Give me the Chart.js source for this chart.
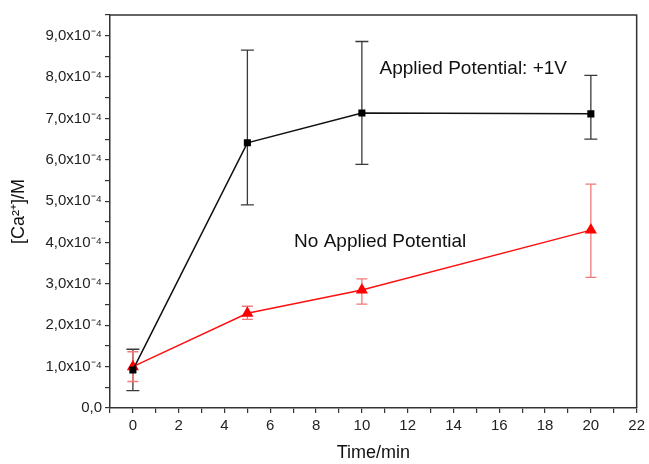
<!DOCTYPE html>
<html>
<head>
<meta charset="utf-8">
<script src="https://cdn.jsdelivr.net/npm/chart.js@4.4.1/dist/chart.umd.min.js"></script>
<style>
html,body{margin:0;padding:0;background:#fff;}
#wrap{width:649px;height:464px;position:relative;}
</style>
</head>
<body>
<div id="wrap"><canvas id="c" width="649" height="464"></canvas></div>
<script>
// Data (time in min, concentration in M)
const times = [0, 5, 10, 20];
const potentialMean = [0.92e-4, 6.41e-4, 7.13e-4, 7.11e-4];
const potentialLow  = [0.42e-4, 4.91e-4, 5.89e-4, 6.50e-4];
const potentialHigh = [1.42e-4, 8.65e-4, 8.86e-4, 8.04e-4];
const noPotMean = [1.00e-4, 2.29e-4, 2.85e-4, 4.30e-4];
const noPotLow  = [0.64e-4, 2.14e-4, 2.51e-4, 3.16e-4];
const noPotHigh = [1.36e-4, 2.46e-4, 3.12e-4, 5.41e-4];
const seriesNames = ['Applied Potential: +1V', 'No Applied Potential'];
const xTickLabels = ['0','2','4','6','8','10','12','14','16','18','20','22'];
const yTickLabels = ['0,0','1,0x10⁻⁴','2,0x10⁻⁴','3,0x10⁻⁴','4,0x10⁻⁴','5,0x10⁻⁴','6,0x10⁻⁴','7,0x10⁻⁴','8,0x10⁻⁴','9,0x10⁻⁴'];

const FONT = '"Liberation Sans", Arial, sans-serif';

function pts(xs, ys){ return xs.map((x,i)=>({x:x, y:ys[i]})); }

const errorBars = {
  id:'errorBars',
  beforeDatasetsDraw(chart){
    const ctx = chart.ctx, xs = chart.scales.x, ys = chart.scales.y;
    const sets = [
      {low:potentialLow, high:potentialHigh, color:'#3a3a3a', cap:6.5, w:1.3},
      {low:noPotLow, high:noPotHigh, color:'#f07a7a', cap:5.5, w:1.3}
    ];
    ctx.save();
    sets.forEach(s=>{
      ctx.strokeStyle = s.color; ctx.lineWidth = s.w;
      times.forEach((t,i)=>{
        const px = xs.getPixelForValue(t);
        const y1 = ys.getPixelForValue(s.low[i]);
        const y2 = ys.getPixelForValue(s.high[i]);
        ctx.beginPath();
        ctx.moveTo(px, y1); ctx.lineTo(px, y2);
        ctx.moveTo(px - s.cap, y1); ctx.lineTo(px + s.cap, y1);
        ctx.moveTo(px - s.cap, y2); ctx.lineTo(px + s.cap, y2);
        ctx.stroke();
      });
    });
    ctx.restore();
  }
};

const frameAndText = {
  id:'frameAndText',
  afterDraw(chart){
    const ctx = chart.ctx, a = chart.chartArea, xs = chart.scales.x, ys = chart.scales.y;
    ctx.save();
    ctx.strokeStyle = '#333'; ctx.lineWidth = 1.5;
    ctx.beginPath();
    ctx.moveTo(a.left, a.top); ctx.lineTo(a.right, a.top); ctx.lineTo(a.right, a.bottom);
    ctx.stroke();
    ctx.fillStyle = '#111';
    ctx.font = '19px ' + FONT;
    ctx.textBaseline = 'middle';
    ctx.textAlign = 'left';
    ctx.fillText(seriesNames[0], xs.getPixelForValue(10.77), ys.getPixelForValue(8.19e-4));
    ctx.fillText(seriesNames[1], xs.getPixelForValue(7.04), ys.getPixelForValue(4.03e-4));
    ctx.restore();
  }
};

new Chart(document.getElementById('c'), {
  type:'line',
  data:{
    datasets:[
      {label:seriesNames[0], data:pts(times, potentialMean), borderColor:'#111', backgroundColor:'#000',
       borderWidth:1.5, pointStyle:'rect', pointRadius:5, pointBorderWidth:0, tension:0},
      {label:seriesNames[1], data:pts(times, noPotMean), borderColor:'#ff1010', backgroundColor:'#ff0000',
       borderWidth:1.5, pointStyle:'triangle', pointRadius:7, pointBorderWidth:0, tension:0}
    ]
  },
  options:{
    responsive:false, animation:false,
    layout:{padding:{top:15, right:10, left:0, bottom:0}},
    plugins:{legend:{display:false}, tooltip:{enabled:false}},
    scales:{
      x:{
        type:'linear', min:-1, max:22,
        afterFit(s){ s.height = 56; },
        border:{display:true, color:'#333', width:1.5},
        grid:{drawOnChartArea:false, drawTicks:true, tickLength:5, color:'#333', lineWidth:1.2},
        ticks:{stepSize:1, autoSkip:false, maxRotation:0, padding:4, color:'#222',
          font:{family:FONT, size:15},
          callback(v){ const n=Math.round(v); if(n%2!==0||n<0) return ''; return xTickLabels[n/2]; }},
        title:{display:true, text:'Time/min', color:'#111', font:{family:FONT, size:18}, padding:{top:4,bottom:0}}
      },
      y:{
        type:'linear', min:0, max:9.5e-4,
        afterFit(s){ s.width = 110; },
        border:{display:true, color:'#333', width:1.5},
        grid:{drawOnChartArea:false, drawTicks:true, tickLength:5, color:'#333', lineWidth:1.2},
        ticks:{stepSize:0.5e-4, autoSkip:false, padding:3, color:'#222',
          font:{family:FONT, size:15},
          callback(v){ const n=Math.round(v/1e-5); if(n%10!==0) return ''; return yTickLabels[n/10]; }},
        title:{display:true, text:'[Ca²⁺]/M', color:'#111', font:{family:FONT, size:18}, padding:{top:8,bottom:0}}
      }
    }
  },
  plugins:[errorBars, frameAndText]
});
</script>
</body>
</html>
